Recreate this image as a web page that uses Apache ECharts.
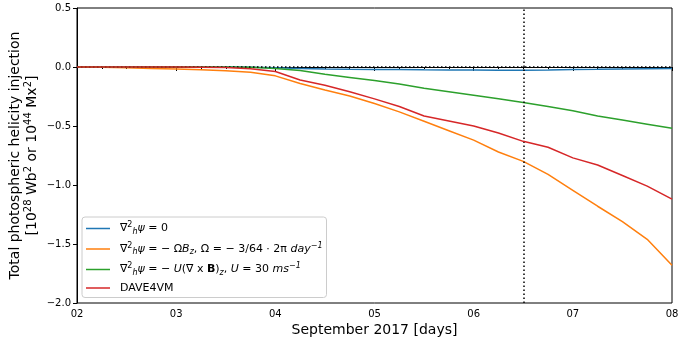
<!DOCTYPE html>
<html><head><meta charset="utf-8">
<script src="https://cdn.jsdelivr.net/npm/echarts@6/dist/echarts.min.js"></script>
<style>html,body{margin:0;padding:0;background:#fff}#c{width:678px;height:347px}</style>
</head><body><div id="c"></div>
<script>
const days = [2, 2.25, 2.5, 2.75, 3, 3.25, 3.5, 3.75, 4, 4.25, 4.5, 4.75, 5, 5.25, 5.5, 5.75, 6, 6.25, 6.5, 6.75, 7, 7.25, 7.5, 7.75, 8];
const blueVals = [0, 0, 0, 0, 0, -0.001, -0.001, -0.002, -0.006, -0.012, -0.018, -0.02, -0.021, -0.022, -0.024, -0.025, -0.026, -0.027, -0.028, -0.026, -0.022, -0.02, -0.017, -0.015, -0.013];
const orangeVals = [0, -0.003, -0.007, -0.012, -0.018, -0.024, -0.031, -0.045, -0.075, -0.14, -0.195, -0.245, -0.31, -0.38, -0.46, -0.54, -0.62, -0.72, -0.80, -0.91, -1.045, -1.18, -1.31, -1.46, -1.68];
const greenVals = [0, 0, 0, 0, 0, 0, -0.001, -0.003, -0.012, -0.03, -0.062, -0.088, -0.115, -0.145, -0.18, -0.21, -0.24, -0.27, -0.30, -0.335, -0.37, -0.415, -0.45, -0.485, -0.52];
const redVals = [0, 0, 0, 0, -0.001, -0.002, -0.004, -0.015, -0.038, -0.11, -0.155, -0.21, -0.27, -0.335, -0.415, -0.457, -0.50, -0.56, -0.63, -0.68, -0.77, -0.83, -0.92, -1.01, -1.12];
const seriesNames = ['s0', 's1', 's2', 'DAVE4VM'];
const refDay = 6.5;
const refValue = 0;

const F = 'DejaVu Sans';
const pair = (ys) => days.map((d, i) => [d, ys[i]]);
const colors = ['#1f77b4', '#ff7f0e', '#2ca02c', '#d62728'];
const legendRich = {
  g: {width: 5, fontSize: 11},
  n: {fontFamily: F, fontSize: 11, color: '#000'},
  i: {fontFamily: F, fontSize: 11, fontStyle: 'italic', color: '#000'},
  b: {fontFamily: F, fontSize: 11, fontWeight: 'bold', color: '#000'},
  sp: {fontFamily: F, fontSize: 8, color: '#000', padding: [0, 0, 7, 0]},
  spi: {fontFamily: F, fontSize: 8, fontStyle: 'italic', color: '#000', padding: [0, 0, 7, 0]},
  sb: {fontFamily: F, fontSize: 8, fontStyle: 'italic', color: '#000', padding: [6, 0, 0, 0]}
};
const lap = '{g| }{n|∇}{sp|2}{sb|h}{i|ψ}';
const legendLabels = {
  s0: lap + '{n| = 0}',
  s1: lap + '{n| = − Ω}{i|B}{sb|z}{n|, Ω = − 3/64 · 2π }{i|day}{spi|−1}',
  s2: lap + '{n| = − }{i|U}{n|(∇ x }{b|B}{n|)}{sb|z}{n|, }{i|U}{n| = 30 }{i|ms}{spi|−1}',
  DAVE4VM: '{g| }{n|DAVE4VM}'
};
const vals = [blueVals, orangeVals, greenVals, redVals];
const series = seriesNames.map((nm, k) => ({
  name: nm, type: 'line', symbol: 'none', showSymbol: false, data: pair(vals[k]),
  lineStyle: {width: 1.5, color: colors[k]}, itemStyle: {color: colors[k]},
  z: 2 + k, animation: false
}));
series[3].markLine = {
  symbol: 'none', silent: true, animation: false,
  label: {show: false},
  lineStyle: {type: [1.5, 2.5], color: '#000', width: 1.5},
  data: [{yAxis: refValue}, {xAxis: refDay}]
};
const chart = echarts.init(document.getElementById('c'));
chart.setOption({
  animation: false,
  grid: {left: 77, right: 6, top: 8, bottom: 44, show: true, borderColor: '#000', borderWidth: 1,
         backgroundColor: 'transparent', outerBoundsMode: 'none', containLabel: false},
  legend: {
    orient: 'vertical', left: 82, top: 217, data: seriesNames,
    icon: 'rect', itemWidth: 24, itemHeight: 1.5, itemGap: 6,
    backgroundColor: 'rgba(255,255,255,0.85)', borderColor: '#cccccc', borderWidth: 1, borderRadius: 3,
    padding: [4, 4, 4, 4],
    formatter: (n) => legendLabels[n],
    textStyle: {rich: legendRich, fontFamily: F, fontSize: 11}
  },
  xAxis: {
    type: 'value', min: 2, max: 8, interval: 1,
    name: 'September 2017 [days]', nameLocation: 'middle', nameGap: 20, nameMoveOverlap: false,
    nameTextStyle: {fontFamily: F, fontSize: 14, color: '#000'},
    axisLine: {lineStyle: {color: '#000', width: 1}},
    axisTick: {inside: false, length: 4, lineStyle: {color: '#000'}},
    minorTick: {show: true, splitNumber: 4, length: 2, lineStyle: {color: '#000'}},
    splitLine: {show: false},
    axisLabel: {fontFamily: F, fontSize: 10, color: '#000', margin: 6, formatter: (v) => '0' + v}
  },
  yAxis: {
    type: 'value', min: -2, max: 0.5, interval: 0.5,
    name: '{t|Total photospheric helicity injection}\n{t|[10}{s|28}{t| Wb}{s|2}{t| or 10}{s|44}{t| Mx}{s|2}{t|]}',
    nameLocation: 'middle', nameGap: 36, nameRotate: 90, nameMoveOverlap: false,
    nameTextStyle: {fontFamily: F, fontSize: 14, color: '#000', lineHeight: 17,
      rich: {t: {fontFamily: F, fontSize: 14, color: '#000', lineHeight: 17},
             s: {fontFamily: F, fontSize: 10, color: '#000', padding: [0, 0, 8, 0], lineHeight: 17}}},
    axisLine: {show: true, lineStyle: {color: '#000', width: 1}},
    axisTick: {show: true, inside: false, length: 4, lineStyle: {color: '#000'}},
    splitLine: {show: false},
    axisLabel: {fontFamily: F, fontSize: 10, color: '#000', margin: 6,
      formatter: (v) => (v < 0 ? '−' : '') + Math.abs(v).toFixed(1)}
  },
  series: series
});
</script></body></html>
